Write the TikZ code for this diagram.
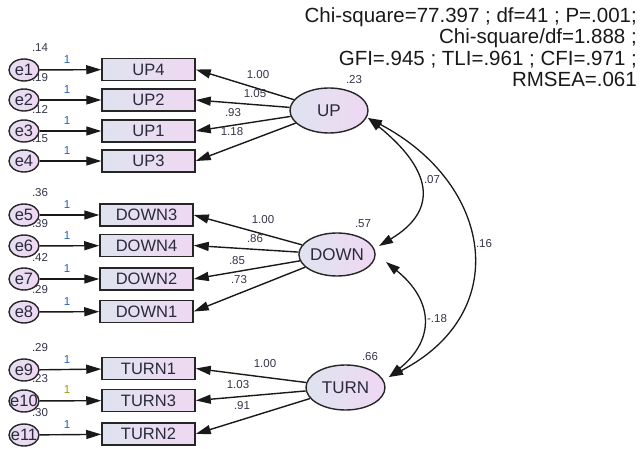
\documentclass[tikz,border=0pt]{standalone}
\usepackage{fontspec}
\setmainfont{Liberation Sans}
\usetikzlibrary{shapes.geometric,arrows.meta}
\definecolor{fillL}{HTML}{DFE3F0}
\definecolor{fillR}{HTML}{EFD8F2}
\definecolor{txt}{HTML}{2A2A3C}
\definecolor{numc}{HTML}{33334A}
\definecolor{onec}{HTML}{1F5FC0}
\definecolor{onecy}{HTML}{9A9A10}
\tikzset{
  obs/.style={draw=black!85, line width=1.5pt, rectangle, minimum width=93pt, minimum height=22pt, inner sep=0pt,
     left color=fillL, right color=fillR, text=txt, font=\fontsize{16.5}{16.5}\selectfont},
  lat/.style={draw=black!85, line width=1.4pt, ellipse, inner sep=0pt, left color=fillL, right color=fillR,
     text=txt, font=\fontsize{17}{17}\selectfont},
  err/.style={draw=black!85, line width=1.4pt, ellipse, minimum width=30pt, minimum height=22pt, inner sep=0pt,
     left color=fillL!60!fillR, right color=fillR},
  etxt/.style={text=txt, font=\fontsize{16.5}{16.5}\selectfont, inner sep=0pt},
  num/.style={text=numc, font=\fontsize{11.5}{11.5}\selectfont, inner sep=0pt},
  one/.style={text=onec, font=\fontsize{11.5}{11.5}\selectfont, inner sep=0pt},
  arr/.style={line width=1.4pt, black!90, -{Triangle[length=15pt,width=9pt]}},
  cov/.style={line width=1.3pt, black!90, {Triangle[length=14pt,width=9pt]}-{Triangle[length=14pt,width=9pt]}}
}
\begin{document}
\begin{tikzpicture}[x=1pt,y=-1pt]
\useasboundingbox (0,0) rectangle (640,449);
% fit statistics
\node[anchor=north east, align=right, inner sep=0pt, text=black!90, font=\fontsize{20.5}{21.5}\selectfont] (fit) at (637,7)
 {Chi-square=77.397 ; df=41 ; P=.001;\\Chi-square/df=1.888 ;\\GFI=.945 ; TLI=.961 ; CFI=.971 ;\\RMSEA=.061};
% latent variables
\node[lat, minimum width=78pt, minimum height=45pt] (UP) at (329,110.5) {UP};
\node[lat, minimum width=76pt, minimum height=43pt] (DOWN) at (337,254.5) {DOWN};
\node[lat, minimum width=79pt, minimum height=45pt] (TURN) at (345.5,387.5) {TURN};
\node[num] (vUP) at (354,80) {.23};
\node[num] (vDOWN) at (363,224) {.57};
\node[num] (vTURN) at (370,357) {.66};
% observed
\node[obs] (UP4) at (148.5,69.5) {UP4};
\node[obs] (UP2) at (148.5,100) {UP2};
\node[obs] (UP1) at (148.5,131) {UP1};
\node[obs] (UP3) at (148.5,161) {UP3};
\node[obs] (DOWN3) at (146.5,215) {DOWN3};
\node[obs] (DOWN4) at (146.5,245.5) {DOWN4};
\node[obs] (DOWN2) at (146.5,279) {DOWN2};
\node[obs] (DOWN1) at (146.5,311.5) {DOWN1};
\node[obs] (TURN1) at (148.5,368.5) {TURN1};
\node[obs] (TURN3) at (148.5,400.5) {TURN3};
\node[obs] (TURN2) at (148.5,434) {TURN2};
% errors
\foreach \e/\y/\v/\b in {e1/70/.14/UP4, e2/100/.19/UP2, e3/131/.12/UP1, e4/161/.15/UP3,
   e5/215/.36/DOWN3, e6/246/.39/DOWN4, e7/279/.42/DOWN2, e8/312/.29/DOWN1,
   e9/370/.29/TURN1, e10/401/.23/TURN3, e11/435/.30/TURN2}{
  \node[err] (\e) at (24,\y) {};
  \node[etxt] (t\e) at (\e) {\e};
  \node[num] (v\e) at (40,\y-22) {\v};
  \draw[arr] (\e) -- (\b);
}
\foreach \e/\y in {e1/70, e2/100, e3/131, e4/161, e5/215, e6/246, e7/279, e8/312, e9/370, e11/435}{
  \node[one] (o\e) at (67,\y-10) {1};
}
\node[one, text=onecy] (oe10) at (67,390) {1};
% loadings
\draw[arr] (UP) -- (UP4.east);
\draw[arr] (UP) -- (UP2.east);
\draw[arr] (UP) -- (UP1.east);
\draw[arr] (UP) -- (UP3.east);
\draw[arr] (DOWN) -- (DOWN3.east);
\draw[arr] (DOWN) -- (DOWN4.east);
\draw[arr] (DOWN) -- (DOWN2.east);
\draw[arr] (DOWN) -- (DOWN1.east);
\draw[arr] (TURN) -- (TURN1.east);
\draw[arr] (TURN) -- (TURN3.east);
\draw[arr] (TURN) -- (TURN2.east);
\node[num] (l1) at (258,75) {1.00};
\node[num] (l2) at (255,94) {1.05};
\node[num] (l3) at (233,113) {.93};
\node[num] (l4) at (232,132) {1.18};
\node[num] (l5) at (263,220) {1.00};
\node[num] (l6) at (255,239) {.86};
\node[num] (l7) at (237,261) {.85};
\node[num] (l8) at (239,280) {.73};
\node[num] (l9) at (265,364) {1.00};
\node[num] (l10) at (238,385) {1.03};
\node[num] (l11) at (242,406) {.91};
% covariances
\coordinate (upR) at (368,118);
\coordinate (dnT) at (379,246);
\coordinate (dnB) at (386,262);
\coordinate (tnT) at (389,377);
\draw[cov] (upR) .. controls (430,168) and (441,209) .. (dnT);
\draw[cov] (dnB) .. controls (433,300) and (436,339) .. (tnT);
\draw[cov] (upR) .. controls (492,183) and (514,312) .. (tnT);
\node[num] (c1) at (432,180) {.07};
\node[num] (c2) at (437,319) {-.18};
\node[num] (c3) at (484,244) {.16};
\end{tikzpicture}
\end{document}
